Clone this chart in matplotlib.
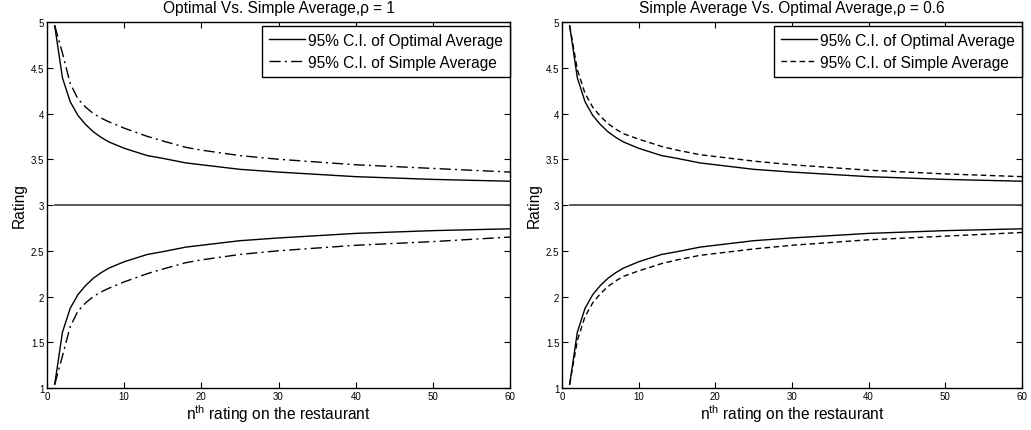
import matplotlib
matplotlib.use('Agg')
import matplotlib.pyplot as plt
from matplotlib.ticker import FormatStrFormatter

plt.rcParams['font.family'] = ['Liberation Sans', 'DejaVu Sans']
plt.rcParams['mathtext.fontset'] = 'custom'
plt.rcParams['mathtext.rm'] = 'Liberation Sans'

# rating index
n = [1, 2, 3, 4, 5, 6, 7, 8, 10, 13, 15, 18, 20, 25, 30, 40, 50, 60]

# mean rating
mean_val = [3.0] * len(n)

# 95% C.I. of optimal average (same in both panels)
opt_up = [4.96, 4.39, 4.13, 3.98, 3.88, 3.80, 3.74, 3.69, 3.62, 3.54, 3.51, 3.46, 3.44, 3.39, 3.36, 3.31, 3.28, 3.26]
opt_lo = [1.04, 1.61, 1.87, 2.02, 2.12, 2.20, 2.26, 2.31, 2.38, 2.46, 2.49, 2.54, 2.56, 2.61, 2.64, 2.69, 2.72, 2.74]

# 95% C.I. of simple average, rho = 1
simp1_up = [4.96, 4.66, 4.33, 4.16, 4.07, 4.00, 3.95, 3.91, 3.84, 3.75, 3.70, 3.63, 3.60, 3.54, 3.50, 3.44, 3.40, 3.36]
simp1_lo = [1.04, 1.35, 1.67, 1.84, 1.93, 2.00, 2.05, 2.09, 2.16, 2.25, 2.30, 2.37, 2.40, 2.46, 2.50, 2.56, 2.60, 2.65]

# 95% C.I. of simple average, rho = 0.6
simp06_up = [4.96, 4.48, 4.22, 4.07, 3.97, 3.89, 3.83, 3.78, 3.72, 3.64, 3.60, 3.55, 3.53, 3.48, 3.44, 3.38, 3.34, 3.31]
simp06_lo = [1.04, 1.52, 1.78, 1.93, 2.03, 2.11, 2.17, 2.22, 2.28, 2.36, 2.40, 2.45, 2.47, 2.52, 2.56, 2.62, 2.66, 2.70]

titles = ['Optimal Vs. Simple Average,\u03c1 = 1', 'Simple Average Vs. Optimal Average,\u03c1 = 0.6']
simple_sets = [(simp1_up, simp1_lo, (0, (8, 3, 1.5, 3))), (simp06_up, simp06_lo, (0, (4, 2.5)))]
positions = [[0.0456, 0.0974, 0.4491, 0.8492], [0.5451, 0.0974, 0.4462, 0.8492]]

fig = plt.figure(figsize=(10.31, 4.31), dpi=100)

for i in range(2):
    ax = fig.add_axes(positions[i])
    up, lo, ls = simple_sets[i]
    ax.plot(n, opt_up, color='k', lw=1.0, ls='-', label='95% C.I. of Optimal Average')
    ax.plot(n, up, color='k', lw=1.0, ls=ls, label='95% C.I. of Simple Average')
    ax.plot(n, mean_val, color='0.3', lw=1.3, ls='-')
    ax.plot(n, opt_lo, color='k', lw=1.0, ls='-')
    ax.plot(n, lo, color='k', lw=1.0, ls=ls)

    ax.set_xlim(0, 60)
    ax.set_ylim(1, 5)
    ax.set_xticks(range(0, 61, 10))
    ax.set_yticks([1, 1.5, 2, 2.5, 3, 3.5, 4, 4.5, 5])
    ax.yaxis.set_major_formatter(FormatStrFormatter('%g'))
    ax.tick_params(direction='in', top=True, right=True, labelsize=7, length=4, pad=2)
    for s in ax.spines.values():
        s.set_linewidth(1.0)

    ax.set_title(titles[i], fontsize=11.2, pad=7)
    ax.set_xlabel(r'n$^{\mathrm{th}}$ rating on the restaurant', fontsize=11.2, labelpad=1)
    ax.set_ylabel('Rating', fontsize=11.2, labelpad=3)

    leg = ax.legend(loc='upper right', bbox_to_anchor=(1.0, 0.99), fontsize=11.2,
                    frameon=True, fancybox=False, edgecolor='k', framealpha=1,
                    borderpad=0.45, handlelength=2.3, handletextpad=0.2,
                    labelspacing=0.45, borderaxespad=0)
    leg.get_frame().set_linewidth(1.0)

fig.savefig('out.png', dpi=100)
